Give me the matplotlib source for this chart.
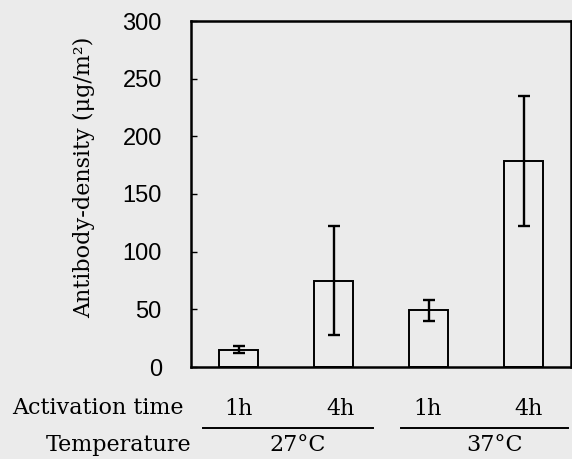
import numpy as np
import matplotlib.pyplot as plt

# values
times = ["1h", "4h", "1h", "4h"]
temps = ["27°C", "37°C"]
density = [15, 75, 49, 178.5]
err = [3, 47, 9, 56.5]
yticks = [0, 50, 100, 150, 200, 250, 300]

bg = "#ebebeb"
fig = plt.figure(figsize=(5.72, 4.59), dpi=100, facecolor=bg)
ax = fig.add_axes([191/572, 1 - 367/459, 380/572, 346/459])
ax.set_facecolor(bg)

x = np.arange(len(density))
ax.bar(x, density, width=0.41, color=bg, edgecolor="black", linewidth=1.4)
ax.errorbar(x, density, yerr=err, fmt="none", ecolor="black",
            elinewidth=1.7, capsize=4, capthick=1.7)

ax.set_xlim(-0.5, 3.5)
ax.set_ylim(0, 300)
ax.set_xticks([])
ax.set_yticks(yticks)
ax.set_yticklabels([str(v) for v in yticks], family="Liberation Sans", fontsize=17)
ax.tick_params(axis="y", direction="in", length=4, width=1, pad=21)
for s in ax.spines.values():
    s.set_linewidth(1.8)

serif = dict(family="DejaVu Serif", fontsize=16, ha="center", va="center")
fig.text(84/572, 1 - 177/459, "Antibody-density (μg/m²)", rotation=90, **serif)

# row labels under the axis
tr = ax.get_xaxis_transform()
fig.text(98/572, 1 - 408/459, "Activation time", **serif)
fig.text(119/572, 1 - 445/459, "Temperature", **serif)
time_pos = [0.0, 1.07, 1.99, 3.05]
for i, t in enumerate(times):
    ax.text(time_pos[i], -0.121, t, transform=tr, **serif)
temp_pos = [0.62, 2.70]
temp_span = [(-0.374, 1.416), (1.71, 3.47)]
for k, t in enumerate(temps):
    ax.text(temp_pos[k], -0.226, t, transform=tr, **serif)
    ax.plot(temp_span[k], [-0.175, -0.175], transform=tr, color="black",
            lw=1.4, clip_on=False)

fig.savefig("out.png", dpi=100, facecolor=bg)
